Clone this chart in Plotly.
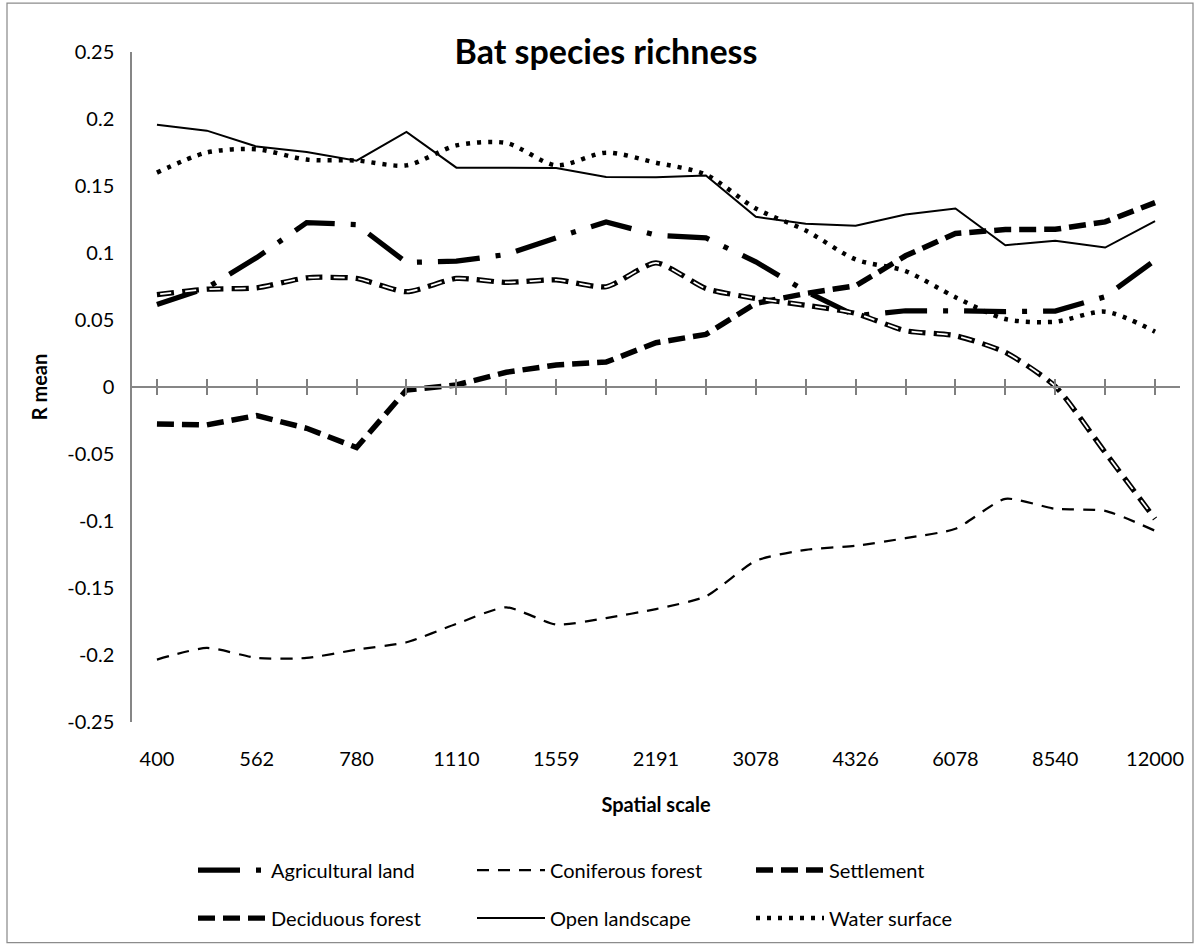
import plotly.graph_objects as go

# Spatial scales (m); every other one is labelled on the axis
scales = ["400", "474", "562", "666", "780", "926", "1110", "1316", "1559", "1849",
          "2191", "2597", "3078", "3649", "4326", "5128", "6078", "7205", "8540",
          "10123", "12000"]
labelled_scales = scales[::2]

agricultural = [0.0616, 0.074, 0.0966, 0.1227, 0.1212, 0.0929, 0.0939, 0.0989, 0.1113,
                0.1232, 0.1133, 0.1113, 0.0934, 0.0714, 0.0532, 0.0569, 0.0569, 0.0562,
                0.0567, 0.0674, 0.0946]
coniferous = [-0.2034, -0.1947, -0.2022, -0.2022, -0.196, -0.1905, -0.1768, -0.1644,
              -0.1773, -0.1724, -0.1657, -0.1562, -0.1297, -0.1215, -0.1185, -0.1128,
              -0.1058, -0.0835, -0.0909, -0.0924, -0.1073]
settlement = [-0.0276, -0.0283, -0.0213, -0.0308, -0.0452, -0.0022, 0.0015, 0.011, 0.0164,
              0.0186, 0.033, 0.0393, 0.0624, 0.0698, 0.0755, 0.0979, 0.1145, 0.1175,
              0.1177, 0.1232, 0.1376]
deciduous = [0.069, 0.073, 0.074, 0.0815, 0.081, 0.0711, 0.081, 0.078, 0.080, 0.0748,
             0.0927, 0.0735, 0.0661, 0.061, 0.0549, 0.042, 0.0383, 0.0259, 0.0005,
             -0.0488, -0.0984]
open_landscape = [0.1957, 0.1913, 0.1794, 0.1754, 0.1689, 0.1903, 0.1637, 0.1635, 0.1635,
                  0.1568, 0.1565, 0.1578, 0.127, 0.1218, 0.1203, 0.1287, 0.1332, 0.1058,
                  0.1091, 0.1041, 0.1237]
water = [0.160, 0.175, 0.1774, 0.1697, 0.169, 0.1654, 0.1803, 0.1821, 0.1654, 0.1749,
         0.1674, 0.1585, 0.1332, 0.1168, 0.0952, 0.0865, 0.067, 0.0507, 0.0487, 0.0562,
         0.0413]

y_ticks = [0.25, 0.2, 0.15, 0.1, 0.05, 0, -0.05, -0.1, -0.15, -0.2, -0.25]
y_min, y_max = -0.25, 0.25

FONT = "Lato, 'Open Sans', sans-serif"
AXIS_GREY = "#868686"

fig = go.Figure()

fig.add_trace(go.Scatter(
    x=scales, y=agricultural, name="Agricultural land", mode="lines", legend="legend",
    line=dict(color="black", width=5.25, dash="42px,16px,5px,16px")))
fig.add_trace(go.Scatter(
    x=scales, y=coniferous, name="Coniferous forest", mode="lines", legend="legend",
    line=dict(color="black", width=2.25, dash="12px,9px", shape="spline", smoothing=0.6)))
fig.add_trace(go.Scatter(
    x=scales, y=settlement, name="Settlement", mode="lines", legend="legend",
    line=dict(color="black", width=5.5, dash="17px,8px")))
# double-line dashes: black outer stroke with a white core
fig.add_trace(go.Scatter(
    x=scales, y=deciduous, name="Deciduous forest", mode="lines", legend="legend2",
    line=dict(color="black", width=5.25, dash="17px,8px", shape="spline", smoothing=0.6)))
fig.add_trace(go.Scatter(
    x=scales, y=deciduous, name="Deciduous forest", mode="lines", legend="legend2",
    showlegend=False, hoverinfo="skip",
    line=dict(color="white", width=1.75, dash="0px,3px,11px,11px", shape="spline",
              smoothing=0.6)))
# the last two series sit on overlaid category axes that carry the tick marks on y = 0
fig.add_trace(go.Scatter(
    x=scales, y=open_landscape, name="Open landscape", mode="lines", legend="legend2",
    xaxis="x2", line=dict(color="black", width=2)))
fig.add_trace(go.Scatter(
    x=scales, y=water, name="Water surface", mode="lines", legend="legend2",
    xaxis="x3",
    line=dict(color="black", width=4.5, dash="4px,7px", shape="spline", smoothing=0.8)))

n = len(scales)
zero_pos = (0 - y_min) / (y_max - y_min)

legend_common = dict(orientation="h", xanchor="left", yanchor="middle",
                     font=dict(family=FONT, size=20, color="black"),
                     bgcolor="rgba(0,0,0,0)", entrywidth=196, entrywidthmode="pixels",
                     itemwidth=68, traceorder="normal")

# tick marks across the zero line (empty tick texts, invisible grid)
tick_axis = dict(type="category", overlaying="x", anchor="free", position=zero_pos,
                 range=[-0.5, n - 0.5], showline=True, linecolor=AXIS_GREY,
                 linewidth=1.5, ticklen=7, tickwidth=2, tickcolor="#7f7f7f",
                 tickmode="array", tickvals=scales, ticktext=[""] * n,
                 showticklabels=True, showgrid=True, gridcolor="rgba(0,0,0,0)")

fig.update_layout(
    width=1200, height=948, autosize=False,
    margin=dict(l=132, r=20, t=52, b=225),
    paper_bgcolor="white", plot_bgcolor="white",
    font=dict(family=FONT, size=20, color="black"),
    hovermode="closest",
    title=dict(text="<b>Bat species richness</b>", x=0.505, xref="container",
               xanchor="center", y=1 - 52 / 948, yref="container", yanchor="middle",
               font=dict(family=FONT, size=34, color="black")),
    xaxis=dict(type="category", categoryorder="array", categoryarray=scales,
               range=[-0.5, n - 0.5], tickmode="array", tickvals=labelled_scales,
               ticktext=labelled_scales, showline=False, ticks="outside", ticklen=19,
               tickcolor="rgba(0,0,0,0)", showgrid=False, zeroline=False,
               tickfont=dict(family=FONT, size=20, color="black"),
               title=dict(text="<b>Spatial scale</b>", standoff=28,
                          font=dict(family=FONT, size=20, color="black"))),
    xaxis2=dict(ticks="outside", **tick_axis),
    xaxis3=dict(ticks="inside", **tick_axis),
    yaxis=dict(range=[y_min, y_max], tickmode="array", tickvals=y_ticks,
               ticktext=[f"{v:g}" for v in y_ticks], showline=True, linecolor=AXIS_GREY,
               linewidth=1.5, ticks="", showgrid=False, zeroline=True,
               zerolinecolor=AXIS_GREY, zerolinewidth=1.5,
               ticklabelstandoff=12,
               tickfont=dict(family=FONT, size=20, color="black"),
               title=dict(text="<b>R mean</b>", standoff=14,
                          font=dict(family=FONT, size=20, color="black"))),
    legend=dict(x=(193 - 132) / 1048, y=(723 - 870) / 671, **legend_common),
    legend2=dict(x=(193 - 132) / 1048, y=(723 - 918) / 671, **legend_common),
    shapes=[dict(type="rect", xref="paper", yref="paper",
                 x0=(7 - 132) / 1048, x1=(1193 - 132) / 1048,
                 y0=(723 - 944) / 671, y1=(723 - 3) / 671,
                 line=dict(color="#8c8c8c", width=1.25), fillcolor="rgba(0,0,0,0)",
                 layer="below")],
    showlegend=True,
)

fig.write_html("out.html")
